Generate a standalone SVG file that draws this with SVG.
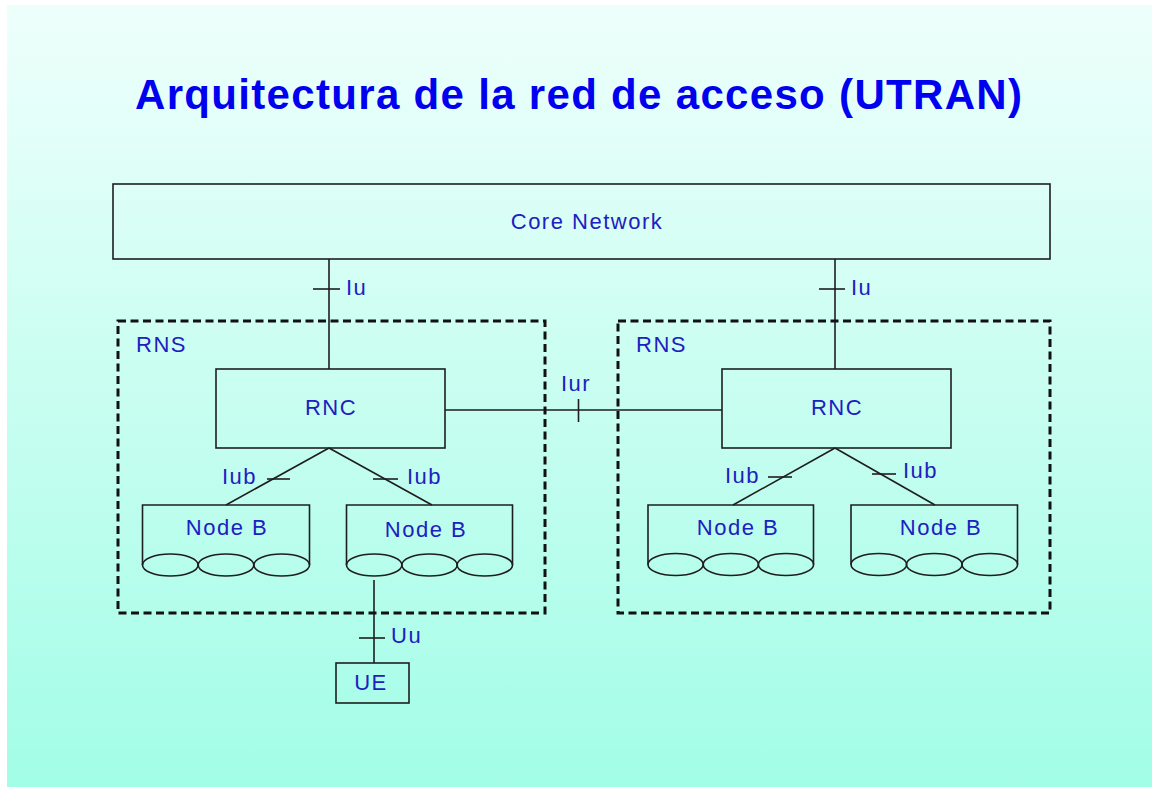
<svg xmlns="http://www.w3.org/2000/svg" width="1152" height="787" viewBox="0 0 1152 787">
  <defs>
    <linearGradient id="bg" x1="0" y1="0" x2="0" y2="1">
      <stop offset="0" stop-color="#EEFFFB"/>
      <stop offset="1" stop-color="#A2FDE7"/>
    </linearGradient>
  </defs>
  <style>
    .box { fill: none; stroke: #1e1e1e; stroke-width: 1.6; }
    .rns { fill: none; stroke: #111; stroke-width: 3; stroke-dasharray: 8 4.5; }
    .ln { fill: none; stroke: #1e1e1e; stroke-width: 1.6; }
    .lbl { font-family: "Liberation Sans", Arial, sans-serif; font-size: 22px; fill: #2020C0; letter-spacing: 1.5px; }
    .mid { text-anchor: middle; }
    .title { font-family: "Liberation Sans", Arial, sans-serif; font-size: 42px; font-weight: bold; fill: #0000F0; }
  </style>

  <rect x="0" y="0" width="1152" height="787" fill="#ffffff"/>
  <rect x="7" y="5" width="1145" height="782" fill="url(#bg)"/>

  <text class="title" x="135" y="109" textLength="887" lengthAdjust="spacing">Arquitectura de la red de acceso (UTRAN)</text>

  <!-- connectors -->
  <g id="connectors">
    <!-- Iu left -->
    <line class="ln" x1="329" y1="259" x2="329" y2="369"/>
    <line class="ln" x1="313" y1="289" x2="340" y2="289"/>
    <!-- Iu right -->
    <line class="ln" x1="835" y1="259" x2="835" y2="369"/>
    <line class="ln" x1="819" y1="289" x2="845" y2="289"/>
    <!-- Iur -->
    <line class="ln" x1="445" y1="410" x2="722" y2="410"/>
    <line class="ln" x1="578.5" y1="399" x2="578.5" y2="422"/>
    <!-- Iub left RNS -->
    <line class="ln" x1="329" y1="448" x2="226" y2="505"/>
    <line class="ln" x1="329" y1="448" x2="432" y2="505"/>
    <line class="ln" x1="267" y1="479" x2="290" y2="479"/>
    <line class="ln" x1="373" y1="479" x2="398" y2="479"/>
    <!-- Iub right RNS -->
    <line class="ln" x1="835" y1="448" x2="733" y2="505"/>
    <line class="ln" x1="835" y1="448" x2="935" y2="505"/>
    <line class="ln" x1="768" y1="477" x2="792" y2="477"/>
    <line class="ln" x1="872" y1="474" x2="896" y2="474"/>
    <!-- Uu -->
    <line class="ln" x1="374" y1="580" x2="374" y2="663"/>
    <line class="ln" x1="359" y1="638" x2="385" y2="638"/>
    <text class="lbl" x="346" y="295">Iu</text>
    <text class="lbl" x="851" y="295">Iu</text>
    <text class="lbl" x="561" y="391">Iur</text>
    <text class="lbl" x="222" y="484">Iub</text>
    <text class="lbl" x="407" y="484">Iub</text>
    <text class="lbl" x="725" y="483">Iub</text>
    <text class="lbl" x="903" y="478">Iub</text>
    <text class="lbl" x="391" y="643">Uu</text>
  </g>

  <g id="core-network">
    <rect class="box" x="113" y="184" width="937" height="75"/>
    <text class="lbl mid" x="587" y="229">Core Network</text>
  </g>

  <g id="rns-1">
    <rect class="rns" x="118" y="321" width="427" height="292"/>
    <text class="lbl" x="136" y="352">RNS</text>
  </g>
  <g id="rns-2">
    <rect class="rns" x="618" y="321" width="432" height="292"/>
    <text class="lbl" x="636" y="352">RNS</text>
  </g>

  <g id="rnc-1">
    <rect class="box" x="216" y="369" width="229" height="79"/>
    <text class="lbl mid" x="331" y="415">RNC</text>
  </g>
  <g id="rnc-2">
    <rect class="box" x="722" y="369" width="229" height="79"/>
    <text class="lbl mid" x="837" y="415">RNC</text>
  </g>

  <g id="nodeb-1">
    <path class="ln" d="M142.5 565 V505 H309.5 V565"/>
    <ellipse class="ln" cx="170.3" cy="565" rx="27.8" ry="11"/>
    <ellipse class="ln" cx="226" cy="565" rx="27.8" ry="11"/>
    <ellipse class="ln" cx="281.7" cy="565" rx="27.8" ry="11"/>
    <text class="lbl mid" x="227" y="535">Node B</text>
  </g>
  <g id="nodeb-2">
    <path class="ln" d="M346.5 565 V505 H512.5 V565"/>
    <ellipse class="ln" cx="374.2" cy="565" rx="27.7" ry="11"/>
    <ellipse class="ln" cx="429.5" cy="565" rx="27.7" ry="11"/>
    <ellipse class="ln" cx="484.8" cy="565" rx="27.7" ry="11"/>
    <text class="lbl mid" x="426" y="537">Node B</text>
  </g>
  <g id="nodeb-3">
    <path class="ln" d="M648 564.5 V505 H813.5 V564.5"/>
    <ellipse class="ln" cx="675.6" cy="564.5" rx="27.6" ry="11"/>
    <ellipse class="ln" cx="730.8" cy="564.5" rx="27.6" ry="11"/>
    <ellipse class="ln" cx="786" cy="564.5" rx="27.6" ry="11"/>
    <text class="lbl mid" x="738" y="535">Node B</text>
  </g>
  <g id="nodeb-4">
    <path class="ln" d="M851 564.5 V505 H1017.5 V564.5"/>
    <ellipse class="ln" cx="878.8" cy="564.5" rx="27.8" ry="11"/>
    <ellipse class="ln" cx="934.3" cy="564.5" rx="27.8" ry="11"/>
    <ellipse class="ln" cx="989.8" cy="564.5" rx="27.8" ry="11"/>
    <text class="lbl mid" x="941" y="535">Node B</text>
  </g>

  <g id="ue">
    <rect class="box" x="336" y="663" width="73" height="40"/>
    <text class="lbl mid" x="371" y="690">UE</text>
  </g>
</svg>
